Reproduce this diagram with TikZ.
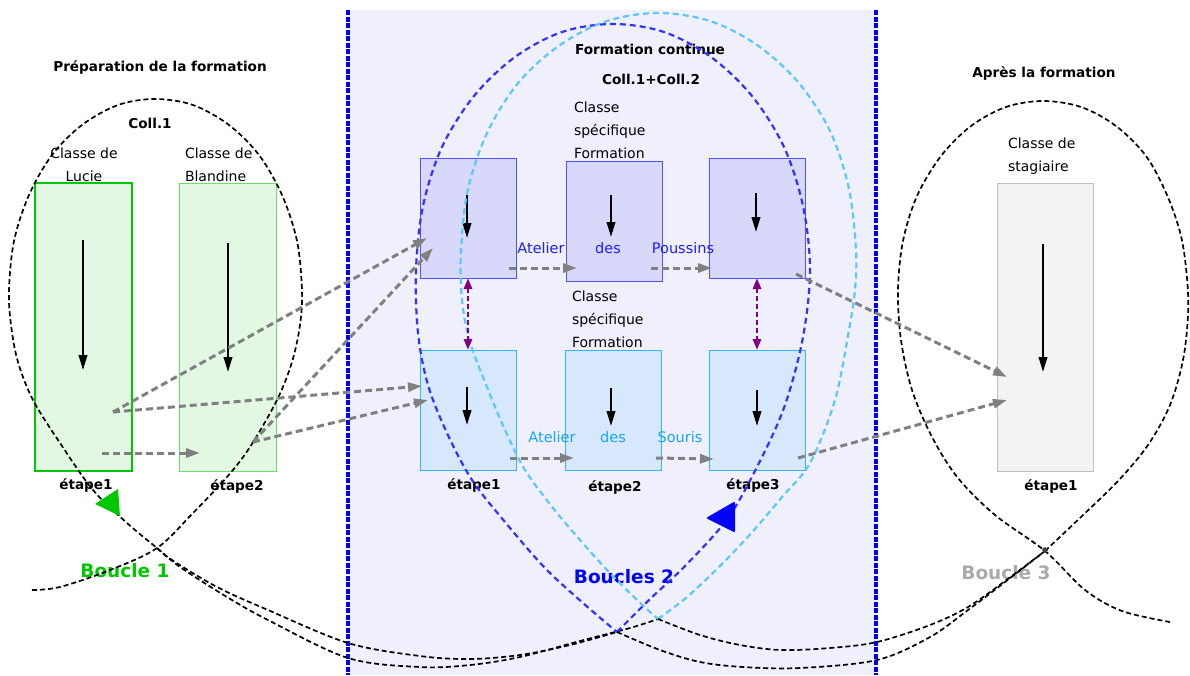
\documentclass[tikz,border=0pt]{standalone}
\usepackage{fontspec}
\setmainfont{DejaVu Sans}
\usetikzlibrary{arrows.meta}
\definecolor{gfill}{RGB}{226,248,226}
\definecolor{gborderA}{RGB}{0,200,0}
\definecolor{gborderB}{RGB}{110,220,110}
\definecolor{pfill}{RGB}{216,216,250}
\definecolor{pborder}{RGB}{80,80,255}
\definecolor{lfill}{RGB}{216,232,252}
\definecolor{lborder}{RGB}{50,180,255}
\definecolor{sfill}{RGB}{243,243,243}
\definecolor{sborder}{RGB}{190,190,190}
\definecolor{panel}{RGB}{240,240,252}
\definecolor{dblue}{RGB}{50,50,255}
\definecolor{lblue}{RGB}{90,200,255}
\definecolor{txtblue}{RGB}{30,30,255}
\definecolor{txtlblue}{RGB}{20,165,255}
\definecolor{boucleA}{RGB}{0,200,0}
\definecolor{boucleC}{RGB}{170,170,170}
\definecolor{grayarr}{RGB}{128,128,128}
\definecolor{purp}{RGB}{128,0,128}
\definecolor{vblue}{RGB}{0,0,255}
\tikzset{
  every node/.style={inner sep=0pt, outer sep=0pt},
  gboxA/.style={draw=gborderA, line width=2.5pt, fill=gfill, minimum width=97pt, minimum height=288pt},
  gboxB/.style={draw=gborderB, line width=1pt, fill=gfill, minimum width=97pt, minimum height=288pt},
  pbox/.style={draw=pborder, line width=1pt, fill=pfill, minimum width=96pt, minimum height=120pt},
  lbox/.style={draw=lborder, line width=1pt, fill=lfill, minimum width=96pt, minimum height=120pt},
  sbox/.style={draw=sborder, line width=1pt, fill=sfill, minimum width=96pt, minimum height=288pt},
  lbl/.style={font=\fontsize{14}{23}\selectfont},
  bld/.style={font=\fontsize{13.6}{16}\selectfont\bfseries},
  boucle/.style={font=\fontsize{18.5}{22}\selectfont\bfseries},
  atelier/.style={font=\fontsize{14.5}{18}\selectfont},
  inarrow/.style={line width=2.2pt, -{Triangle[length=15pt,width=8.5pt]}},
  grayarrow/.style={draw=grayarr, line width=3pt, dash pattern=on 7pt off 4pt, -{Triangle[length=14pt,width=9pt]}},
  purparrow/.style={draw=purp, line width=2.8pt, dash pattern=on 5pt off 3pt, {Triangle[length=11pt,width=8pt]}-{Triangle[length=11pt,width=8pt]}},
  loopline/.style={line width=1.7pt, dash pattern=on 5pt off 3pt},
  blueloop/.style={line width=2.2pt, dash pattern=on 6pt off 4pt},
  vborder/.style={draw=vblue, line width=3.5pt, dash pattern=on 5pt off 1.5pt},
}
\begin{document}
\begin{tikzpicture}[x=1pt,y=-1pt]
\useasboundingbox (0,0) rectangle (1190,675);
% central panel
\fill[panel] (348,10) rectangle (876,675);
\draw[vborder] (348,10) -- (348,675);
\draw[vborder] (876,10) -- (876,675);

% boxes
\node[gboxA] (lucie) at (83.5,327) {};
\node[gboxB] (blandine) at (227.5,327) {};
\node[pbox] (up1) at (468,218) {};
\node[pbox] (up2) at (614,221) {};
\node[pbox] (up3) at (757,218) {};
\node[lbox] (lo1) at (468,410) {};
\node[lbox] (lo2) at (613,410) {};
\node[lbox] (lo3) at (757,410) {};
\node[sbox] (stag) at (1045,327) {};

% texts
\node[bld] (tprep) at (160,67) {Préparation de la formation};
\node[bld] (tcoll1) at (150,123) {Coll.1};
\node[lbl, align=center] (tlucie) at (84,164.5) {Classe de\\Lucie};
\node[lbl, align=left, anchor=west] (tblandine) at (185,164.5) {Classe de\\Blandine};
\node[bld] (e1a) at (86,485) {étape1};
\node[bld] (e2a) at (237,486) {étape2};
\node[boucle, text=boucleA] (bA) at (125,571) {Boucle 1};

\node[bld] (tform) at (650,49) {Formation continue};
\node[bld] (tcoll12) at (651,79) {Coll.1+Coll.2};
\node[lbl, align=left, anchor=west] (tcsA) at (574,130) {Classe\\spécifique\\Formation};
\node[lbl, align=left, anchor=west] (tcsB) at (572,319.5) {Classe\\spécifique\\Formation};
\node[atelier, text=txtblue] (atA) at (541,248) {Atelier};
\node[atelier, text=txtblue] (desA) at (608,248) {des};
\node[atelier, text=txtblue] (pou) at (683,248) {Poussins};
\node[atelier, text=txtlblue] (atB) at (552,437) {Atelier};
\node[atelier, text=txtlblue] (desB) at (613,437) {des};
\node[atelier, text=txtlblue] (sou) at (680,437) {Souris};
\node[bld] (e1b) at (474,485) {étape1};
\node[bld] (e2b) at (615,487) {étape2};
\node[bld] (e3b) at (753,485) {étape3};
\node[boucle, text=vblue] (bB) at (624,577) {Boucles 2};

\node[bld] (tapres) at (1044,73) {Après la formation};
\node[lbl, align=left, anchor=west] (tstag) at (1008,156) {Classe de\\stagiaire};
\node[bld] (e1c) at (1051,486) {étape1};
\node[boucle, text=boucleC] (bC) at (1006,573) {Boucle 3};

% inner arrows
\draw[inarrow] (lucie.center) ++(-0.5,-87) -- ++(0,130);
\draw[inarrow] (blandine.center) ++(0.5,-84) -- ++(0,129);
\draw[inarrow] (up1.center) ++(-1,-23) -- ++(0,43);
\draw[inarrow] (up2.center) ++(-3,-26) -- ++(0,42);
\draw[inarrow] (up3.center) ++(-1,-25) -- ++(0,39);
\draw[inarrow] (lo1.center) ++(-1,-23) -- ++(0,38);
\draw[inarrow] (lo2.center) ++(-2,-22) -- ++(0,38);
\draw[inarrow] (lo3.center) ++(0,-20) -- ++(0,36);
\draw[inarrow] (stag.center) ++(-2,-83) -- ++(0,128);

% loop 1 and its two tails
\draw[loopline] plot[smooth, tension=0.55] coordinates {(32,590) (60,587) (110,570) (157,548) (193,513) (227,477) (250,447) (277,400) (292,362) (300,325) (302,290) (297,241) (282,195) (259,155) (229,125) (193,105) (155,99) (118,105) (82,125) (52,155) (29,195) (14,241) (9,290) (11,325) (18,362) (33,400) (60,443) (93,490) (127,523) (157,548) (172,560) (217,587) (268,610) (348,643) (420,656) (470,659) (520,655) (570,645) (617,632)};
\draw[loopline] plot[smooth, tension=0.55] coordinates {(157,548) (180,567) (227,597) (268,620) (348,658) (420,667) (470,665) (520,657) (580,641) (630,628) (658,619)};
% loops 2
\draw[blueloop, draw=dblue] plot[smooth, tension=0.55] coordinates {(617,632) (649,600) (686,565) (728,518) (759,463) (785,405) (803,337) (810,270) (803,206) (784,147) (752,96) (711,57) (664,32) (613,24) (562,32) (515,57) (474,96) (442,147) (423,206) (416,270) (418,333) (428,385) (447,433) (472,480) (505,522) (545,568) (583,603) (617,632)};
\draw[blueloop, draw=lblue] plot[smooth, tension=0.55] coordinates {(658,619) (687,597) (722,564) (754,530) (782,497) (810,463) (835,400) (849,330) (855,290) (856,250) (849,189) (830,131) (798,82) (757,45) (710,21) (658,13) (607,21) (560,45) (519,82) (488,131) (468,189) (461,250) (462,300) (470,342) (487,387) (505,430) (525,470) (553,508) (580,540) (607,570) (635,598) (658,619)};
% tails to loop 3
\draw[loopline] plot[smooth, tension=0.55] coordinates {(617,632) (660,650) (700,662) (743,667) (800,668) (877,660) (930,637) (968,610) (1005,582) (1045,551)};
\draw[loopline] plot[smooth, tension=0.55] coordinates {(658,619) (700,635) (740,645) (781,650) (830,648) (877,642) (930,625) (968,607) (1005,581) (1045,551)};
% loop 3
\draw[loopline] plot[smooth, tension=0.55] coordinates {(1045,551) (1082,516) (1118,481) (1148,445) (1170,405) (1183,360) (1188,315) (1187,278) (1181,236) (1167,195) (1146,156) (1116,126) (1081,107) (1043,101) (1006,107) (971,126) (941,156) (917,196) (903,241) (898,290) (901,340) (912,390) (932,437) (958,478) (995,515) (1045,551) (1085,590) (1122,611) (1170,622)};
\fill[black!75] (1045,550) circle (2.8);

% arrowhead triangles of loops
\fill[boucleA, line join=round] (95,504) -- (118,489) -- (120,516) -- cycle;
\filldraw[vblue, line width=2pt, line join=round] (708,518) -- (734,503) -- (734,531) -- cycle;

% gray dashed arrows
\coordinate (a1) at (113,412);
\coordinate (a2) at (102,453);
\coordinate (b1) at (253,442);
\coordinate (b2) at (200,453);
\coordinate (u1a) at (427,238);
\coordinate (u1b) at (433,248);
\coordinate (l1a) at (422,386);
\coordinate (l1b) at (428,400);
\coordinate (pa) at (509,268);
\coordinate (pb) at (577,268);
\coordinate (pc) at (651,268);
\coordinate (pd) at (712,268);
\coordinate (sa) at (510,458);
\coordinate (sb) at (574,458);
\coordinate (sc) at (656,458);
\coordinate (sd) at (714,459);
\coordinate (o3) at (796,274);
\coordinate (t1) at (1007,377);
\coordinate (o4) at (798,458);
\coordinate (t2) at (1007,400);
\draw[grayarrow] (a2) -- (b2);
\draw[grayarrow] (a1) -- (u1a);
\draw[grayarrow] (b1) -- (u1b);
\draw[grayarrow] (a1) -- (l1a);
\draw[grayarrow] (b1) -- (l1b);
\draw[grayarrow] (pa) -- (pb);
\draw[grayarrow] (pc) -- (pd);
\draw[grayarrow] (sa) -- (sb);
\draw[grayarrow] (sc) -- (sd);
\draw[grayarrow] (o3) -- (t1);
\draw[grayarrow] (o4) -- (t2);

% purple double arrows
\draw[purparrow] (up1.south) -- (lo1.north);
\draw[purparrow] (up3.south) -- (lo3.north);
\end{tikzpicture}
\end{document}
